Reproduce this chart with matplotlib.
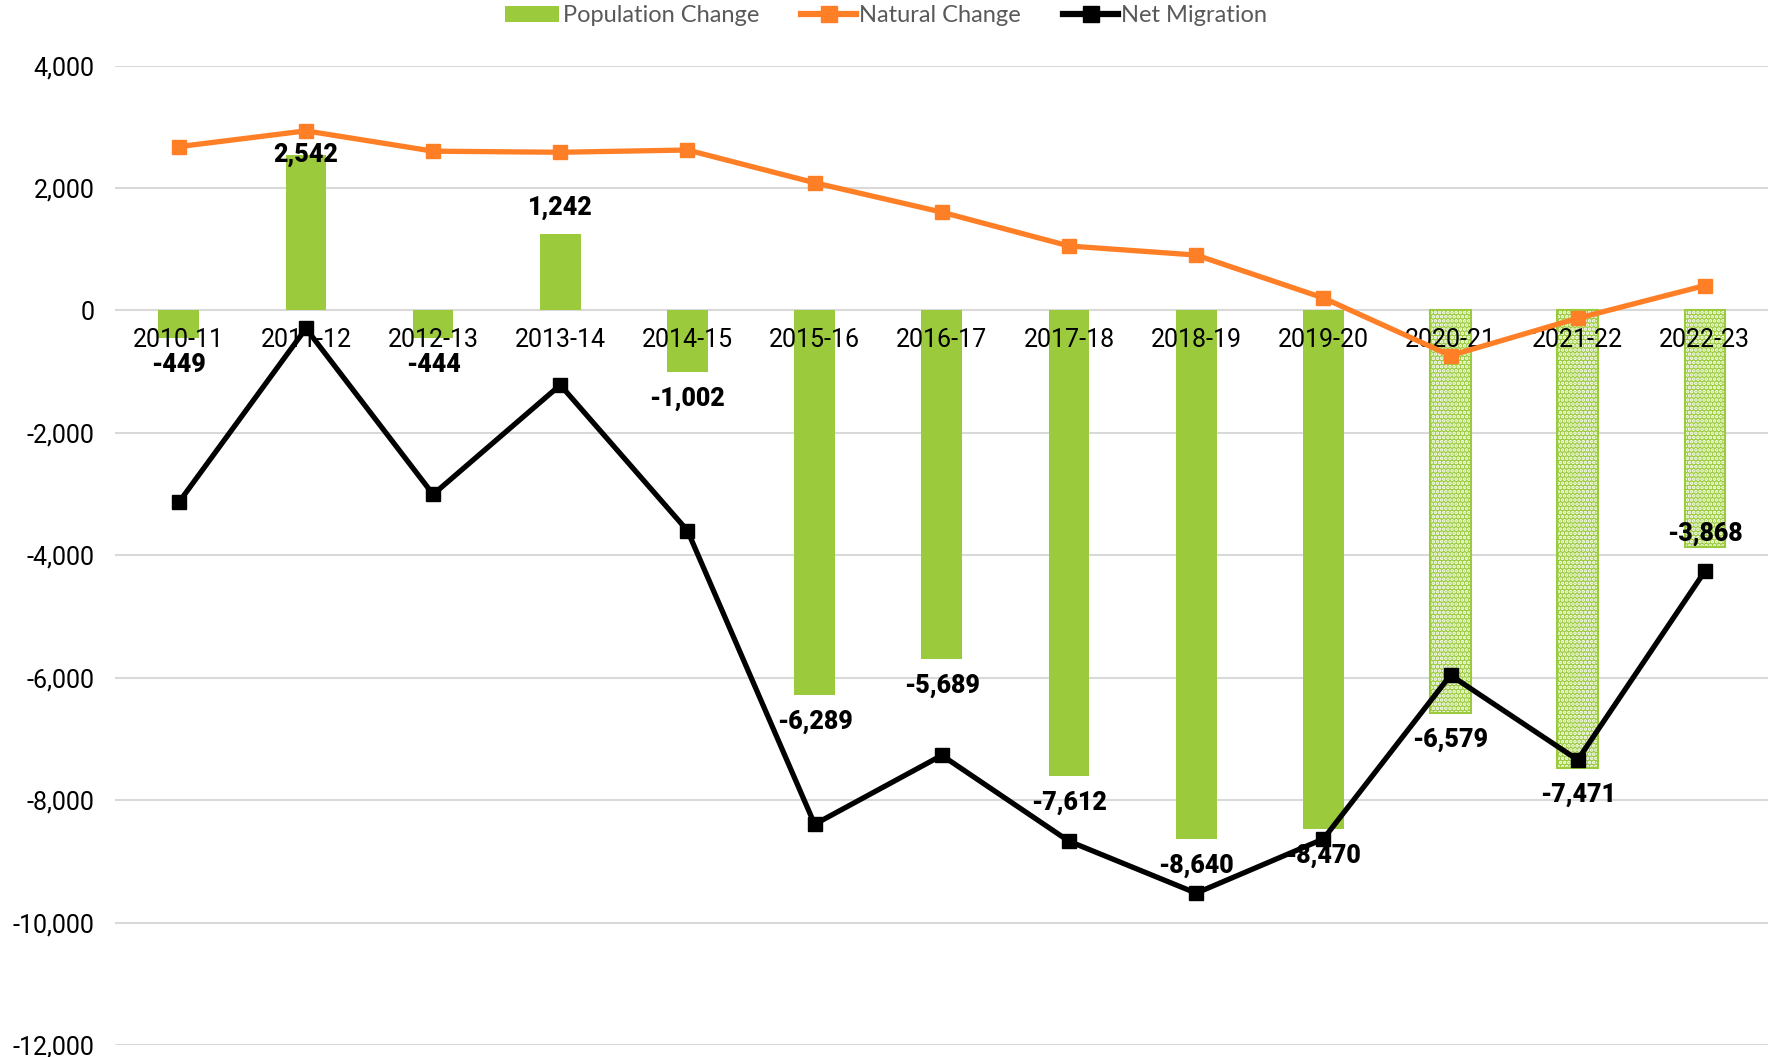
import numpy as np
import matplotlib
matplotlib.use("Agg")
import matplotlib.pyplot as plt
from matplotlib.lines import Line2D
from matplotlib.patches import Patch

years = ["2010-11", "2011-12", "2012-13", "2013-14", "2014-15", "2015-16", "2016-17",
         "2017-18", "2018-19", "2019-20", "2020-21", "2021-22", "2022-23"]
pop_change = [-449, 2542, -444, 1242, -1002, -6289, -5689, -7612, -8640, -8470, -6579, -7471, -3868]
natural_change = [2675, 2933, 2601, 2583, 2620, 2085, 1605, 1052, 904, 203, -738, -129, 406]
net_migration = [-3137, -295, -3007, -1218, -3598, -8395, -7269, -8672, -9520, -8635, -5959, -7343, -4262]
estimated = [False]*10 + [True]*3   # last three bars drawn with the dotted fill

green = "#9BCB3C"
orange = "#FF7F27"

plt.rcParams['font.family'] = ['Roboto', 'DejaVu Sans']
plt.rcParams['hatch.linewidth'] = 1.8

fig = plt.figure(figsize=(17.72, 10.57), dpi=100)
ax = fig.add_axes([0.065, 0.0114, 0.933, 0.9266])

x = np.arange(len(years))
for i in range(len(years)):
    if estimated[i]:
        ax.bar(x[i], pop_change[i], width=0.32, color=green, edgecolor="white", linewidth=0, hatch="....", zorder=2)
        ax.bar(x[i], pop_change[i], width=0.32, facecolor="none", edgecolor=green, linewidth=1.5, zorder=2)
    else:
        ax.bar(x[i], pop_change[i], width=0.32, color=green, linewidth=0, zorder=2)

ax.plot(x, natural_change, color=orange, lw=3.8, marker="s", ms=10, zorder=4)
ax.plot(x, net_migration, color="black", lw=3.8, marker="s", ms=10, zorder=4)

# category labels sit just under the zero line
for i, yr in enumerate(years):
    ax.annotate(yr, (x[i], 0), xytext=(0, -30), textcoords="offset pixels",
                ha="center", va="center", fontsize=18, color="black", zorder=3)

# data labels for the bars
offsets = [-27, 0, -27, 26, -27, -27, -27, -27, -27, -27, -27, -27, 13]
for i, v in enumerate(pop_change):
    ax.annotate(f"{v:,}", (x[i], v), xytext=(0, offsets[i]), textcoords="offset pixels",
                ha="center", va="center", fontsize=18, fontweight=900, color="black", zorder=5)

ax.set_xlim(-0.5, len(years) - 0.5)
ax.set_ylim(-12000, 4000)
ax.set_yticks(np.arange(-12000, 4001, 2000))
ax.set_yticklabels([f"{t:,}" for t in range(-12000, 4001, 2000)], fontsize=18)
ax.set_xticks([])
ax.yaxis.grid(True, color="#D9D9D9", lw=1.5, zorder=0)
ax.set_axisbelow(True)
ax.tick_params(axis="y", length=0, pad=15)
for s in ax.spines.values():
    s.set_visible(False)

handles = [Patch(facecolor=green, edgecolor="none"),
           Line2D([], [], color=orange, lw=4.5, marker="s", ms=11),
           Line2D([], [], color="black", lw=4.5, marker="s", ms=11)]
fig.legend(handles, ["Population Change", "Natural Change", "Net Migration"],
           loc="upper center", bbox_to_anchor=(0.5, 1.015), ncol=3, frameon=False,
           prop={"family": ["Lato", "DejaVu Sans"], "size": 17},
           labelcolor="#595959", handlelength=2.3, handletextpad=0.15, columnspacing=1.8)

fig.savefig("out.png", dpi=100)
